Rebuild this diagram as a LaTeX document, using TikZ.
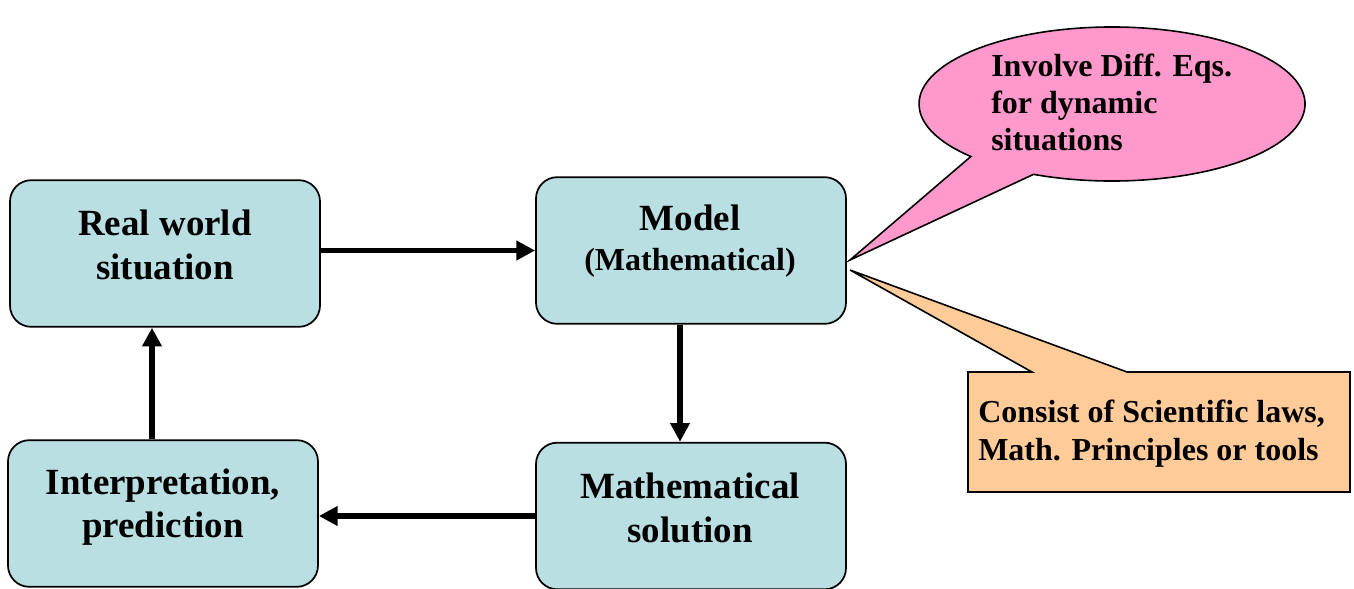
\documentclass[tikz,border=0pt]{standalone}
\usepackage{fontspec}
\setmainfont{Liberation Serif}
\usetikzlibrary{arrows.meta,calc}
\definecolor{boxfill}{HTML}{B9DFE3}
\definecolor{pinkfill}{HTML}{FF99CC}
\definecolor{orangefill}{HTML}{FFCC99}
\begin{document}
\begin{tikzpicture}[x=0.75pt,y=-0.75pt,
  box/.style={draw=black,line width=1.3pt,fill=boxfill,rounded corners=16pt,
    minimum width=232.5pt,minimum height=110pt,inner sep=0pt},
  lbl/.style={align=center,inner sep=0pt,font=\bfseries\fontsize{27.7}{32.5}\selectfont},
  call/.style={align=left,inner sep=0pt,anchor=west,font=\bfseries\fontsize{24}{27.75}\selectfont},
  arr/.style={line width=4pt,-{Triangle[length=14pt,width=14pt]}},
  bubble/.style={draw=black,line width=1.2pt,line join=miter}]
\useasboundingbox (0,0) rectangle (1354,589);
% boxes
\node[box] (rw) at (165,253.5) {};
\node[box] (mo) at (691,250.5) {};
\node[box] (ms) at (691,516) {};
\node[box] (ip) at (163,513.5) {};
\node[lbl] (rwt) at (165,245) {Real world\\situation};
\node[lbl] (mot) at (690,241) {Model\\[-2pt]{\fontsize{24}{28}\selectfont(Mathematical)}};
\node[lbl] (mst) at (690,508) {Mathematical\\solution};
\node[lbl] (ipt) at (163,507) {Interpretation,\\prediction};
% arrows
\coordinate (a2) at (680,0);
\coordinate (a4) at (152,0);
\draw[arr] (mo.west -| rw.east) -- (mo.west);
\draw[arr] (a2 |- mo.south) -- (a2 |- ms.north);
\draw[arr] (ms.west) -- (ms.west -| ip.east);
\draw[arr] (a4 |- ip.north) -- (a4 |- rw.south);
% pink callout
\coordinate (ptip) at (850,260);
\coordinate (pc) at (1112,104);
\draw[bubble,fill=pinkfill] ($(pc)+(114:193 and 77)$) arc[start angle=114,end angle=-223,x radius=193,y radius=77] -- (ptip) -- cycle;
\node[call] (pt) at (991,102) {Involve Diff. Eqs.\\for dynamic\\situations};
% orange callout
\coordinate (otip) at (850,270);
\draw[bubble,fill=orangefill] (968,372) -- (1032,372) -- (otip) -- (1127,372) -- (1350,372) -- (1350,492) -- (968,492) -- cycle;
\node[call,font=\bfseries\fontsize{24}{28.5}\selectfont] (ot) at (978,434) {Consist of Scientific laws,\\Math. Principles or tools};
\end{tikzpicture}
\end{document}
